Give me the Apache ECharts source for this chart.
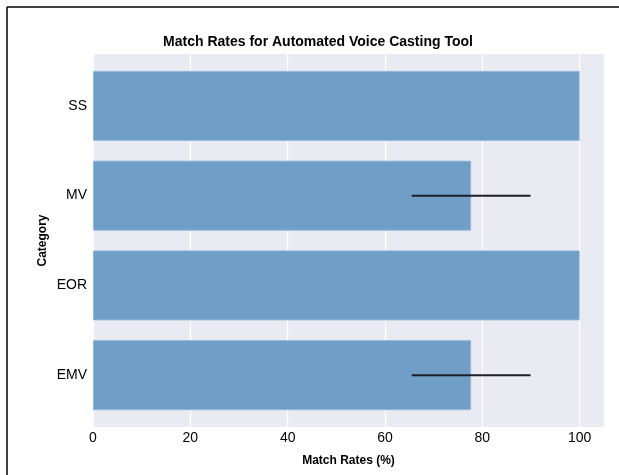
<!DOCTYPE html>
<html>
<head>
<meta charset="utf-8">
<script src="https://cdn.jsdelivr.net/npm/echarts@6/dist/echarts.min.js"></script>
<style>
html,body{margin:0;padding:0;background:#fff;}
#c{width:619px;height:475px;}
</style>
</head>
<body>
<div id="c"></div>
<script>
var categories = ['SS', 'MV', 'EOR', 'EMV'];
var matchRates = [100, 77.7, 100, 77.7];
var errors = [0, 12.2, 0, 12.2];
var xTicks = [0, 20, 40, 60, 80, 100];

var FONT = '"Liberation Sans", Arial, Helvetica, sans-serif';
var errData = [];
for (var i = 0; i < categories.length; i++) {
  if (errors[i] > 0) errData.push([i, matchRates[i] - errors[i], matchRates[i] + errors[i]]);
}

var chart = echarts.init(document.getElementById('c'), null, {renderer: 'canvas'});
chart.setOption({
  animation: false,
  backgroundColor: '#ffffff',
  title: {
    text: 'Match Rates for Automated Voice Casting Tool',
    left: 313, top: 30, textAlign: 'center',
    textStyle: {fontFamily: FONT, fontSize: 14, fontWeight: 'bold', color: '#000'}
  },
  graphic: [
    {type: 'line', shape: {x1: 7, y1: 7, x2: 619, y2: 7}, style: {stroke: '#000', lineWidth: 1.5}},
    {type: 'line', shape: {x1: 7, y1: 7, x2: 7, y2: 475}, style: {stroke: '#000', lineWidth: 1.5}}
  ],
  grid: [
    {left: 93, right: 15, top: 54, bottom: 48, show: true, backgroundColor: '#eaeaf2', borderWidth: 0},
    {left: 93, right: 15, top: 61, bottom: 55, show: false}
  ],
  xAxis: [
    {
      gridIndex: 0, type: 'value', min: 0, max: 105, interval: 20,
      name: 'Match Rates (%)', nameLocation: 'middle', nameGap: 28,
      nameTextStyle: {fontFamily: FONT, fontSize: 12, fontWeight: 'bold', color: '#000'},
      axisLine: {show: false}, axisTick: {show: false},
      axisLabel: {
        fontFamily: FONT, fontSize: 14, color: '#000', margin: 4,
        formatter: function (v) { return xTicks.indexOf(v) >= 0 ? String(v) : ''; }
      },
      splitLine: {show: true, lineStyle: {color: '#ffffff', width: 1.2}}
    },
    {
      gridIndex: 1, type: 'value', min: 0, max: 105,
      axisLine: {show: false}, axisTick: {show: false}, axisLabel: {show: false}, splitLine: {show: false}
    }
  ],
  yAxis: [
    {
      gridIndex: 0, type: 'category', data: categories, inverse: true,
      axisLine: {show: false}, axisTick: {show: false}, axisLabel: {show: false}, splitLine: {show: false},
      name: 'Category', nameLocation: 'middle', nameGap: 44, nameRotate: 90,
      nameTextStyle: {fontFamily: FONT, fontSize: 12, fontWeight: 'bold', color: '#000'}
    },
    {
      gridIndex: 1, type: 'category', data: categories, inverse: true,
      axisLine: {show: false}, axisTick: {show: false}, splitLine: {show: false},
      axisLabel: {fontFamily: FONT, fontSize: 14, color: '#000', margin: 6}
    }
  ],
  series: [
    {
      type: 'bar', xAxisIndex: 1, yAxisIndex: 1, data: matchRates, barWidth: 70,
      itemStyle: {color: '#6f9ec7', borderColor: '#8fb8dc', borderWidth: 1}
    },
    {
      type: 'custom', xAxisIndex: 1, yAxisIndex: 1, data: errData,
      encode: {x: [1, 2], y: 0},
      renderItem: function (params, api) {
        var a = api.coord([api.value(1), api.value(0)]);
        var b = api.coord([api.value(2), api.value(0)]);
        return {type: 'line', shape: {x1: a[0], y1: a[1], x2: b[0], y2: b[1]},
                style: {stroke: '#1f1f2a', lineWidth: 2}};
      },
      z: 10
    }
  ]
});
</script>
</body>
</html>
